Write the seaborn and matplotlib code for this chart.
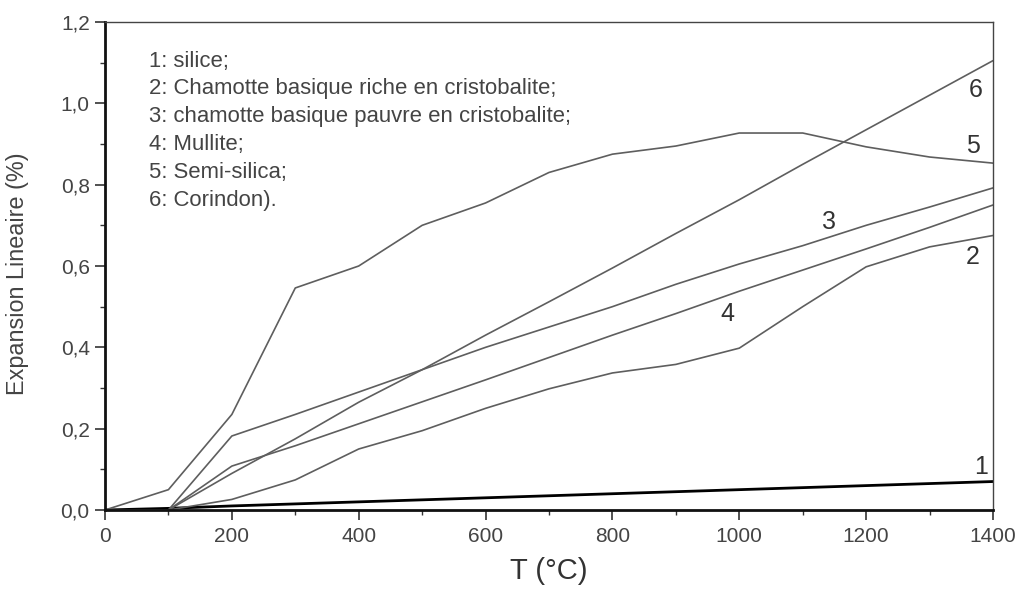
import matplotlib
matplotlib.use("Agg")
import matplotlib.pyplot as plt
from matplotlib.ticker import MultipleLocator, FuncFormatter
import seaborn as sns
import pandas as pd

T = [0, 100, 200, 300, 400, 500, 600, 700, 800, 900, 1000, 1100, 1200, 1300, 1400]
silice = [0.0, 0.004, 0.01, 0.015, 0.02, 0.025, 0.03, 0.035, 0.04, 0.045, 0.05, 0.055, 0.06, 0.065, 0.07]
chamotte_riche = [0.0, 0.0, 0.026, 0.074, 0.15, 0.195, 0.25, 0.298, 0.337, 0.358, 0.398, 0.5, 0.598, 0.647, 0.675]
chamotte_pauvre = [0.0, 0.0, 0.182, 0.235, 0.29, 0.345, 0.40, 0.45, 0.50, 0.555, 0.605, 0.65, 0.70, 0.745, 0.792]
mullite = [0.0, 0.0, 0.108, 0.158, 0.212, 0.266, 0.32, 0.375, 0.43, 0.483, 0.538, 0.59, 0.642, 0.695, 0.75]
semi_silica = [0.0, 0.05, 0.235, 0.546, 0.60, 0.70, 0.755, 0.83, 0.875, 0.895, 0.927, 0.927, 0.893, 0.868, 0.853]
corindon = [0.0, 0.0, 0.09, 0.175, 0.265, 0.345, 0.43, 0.512, 0.595, 0.68, 0.763, 0.85, 0.935, 1.02, 1.105]

legend_lines = ["1: silice;",
                "2: Chamotte basique riche en cristobalite;",
                "3: chamotte basique pauvre en cristobalite;",
                "4: Mullite;",
                "5: Semi-silica;",
                "6: Corindon)."]
curve_ids = ["1", "2", "3", "4", "5", "6"]
label_pos = [(1381, 0.106), (1368, 0.622), (1141, 0.708), (981, 0.482), (1368, 0.895), (1373, 1.033)]

sns.set_style("ticks")
plt.rcParams['font.family'] = ['Liberation Sans', 'DejaVu Sans']

fig = plt.figure(figsize=(10.2, 5.89), dpi=100)
ax = fig.add_axes([105 / 1020, 79 / 589, 888 / 1020, 488 / 589])

series = [silice, chamotte_riche, chamotte_pauvre, mullite, semi_silica, corindon]
grey = "#5e5e5e"
for i, vals in enumerate(series):
    df = pd.DataFrame({"T": T, "v": vals})
    if i == 0:
        sns.lineplot(data=df, x="T", y="v", ax=ax, color="black", linewidth=2.0)
    else:
        sns.lineplot(data=df, x="T", y="v", ax=ax, color=grey, linewidth=1.2)

ax.set_xlim(0, 1400)
ax.set_ylim(0, 1.2)
ax.xaxis.set_major_locator(MultipleLocator(200))
ax.xaxis.set_minor_locator(MultipleLocator(100))
ax.yaxis.set_major_locator(MultipleLocator(0.2))
ax.yaxis.set_minor_locator(MultipleLocator(0.1))
ax.yaxis.set_major_formatter(FuncFormatter(lambda v, p: f"{v:.1f}".replace(".", ",")))
ax.tick_params(which="major", direction="out", length=7, width=1.2, colors="#333333",
               labelsize=15, labelcolor="#444444")
ax.tick_params(axis="x", which="major", pad=5)
ax.tick_params(axis="y", which="major", pad=4)
ax.tick_params(which="minor", direction="out", length=3.6, width=1.0, colors="#333333")

for s in ["left", "bottom"]:
    ax.spines[s].set_linewidth(2.0)
    ax.spines[s].set_color("#111111")
for s in ["top", "right"]:
    ax.spines[s].set_visible(True)
    ax.spines[s].set_linewidth(1.0)
    ax.spines[s].set_color("#444444")

ax.set_xlabel("T (°C)", fontsize=21, color="#333333")
ax.xaxis.set_label_coords(0.5, -0.097)
ax.set_ylabel("Expansion Lineaire (%)", fontsize=16.8, color="#444444")
ax.yaxis.set_label_coords(-0.086, 0.484)

for k, line in enumerate(legend_lines):
    ax.text(70, 1.104 - k * 0.0684, line, fontsize=15.9, color="#444444",
            va="center", ha="left")

for cid, (x, y) in zip(curve_ids, label_pos):
    ax.text(x, y, cid, fontsize=18, color="#333333", ha="center", va="center")

fig.savefig("out.png", dpi=100)
